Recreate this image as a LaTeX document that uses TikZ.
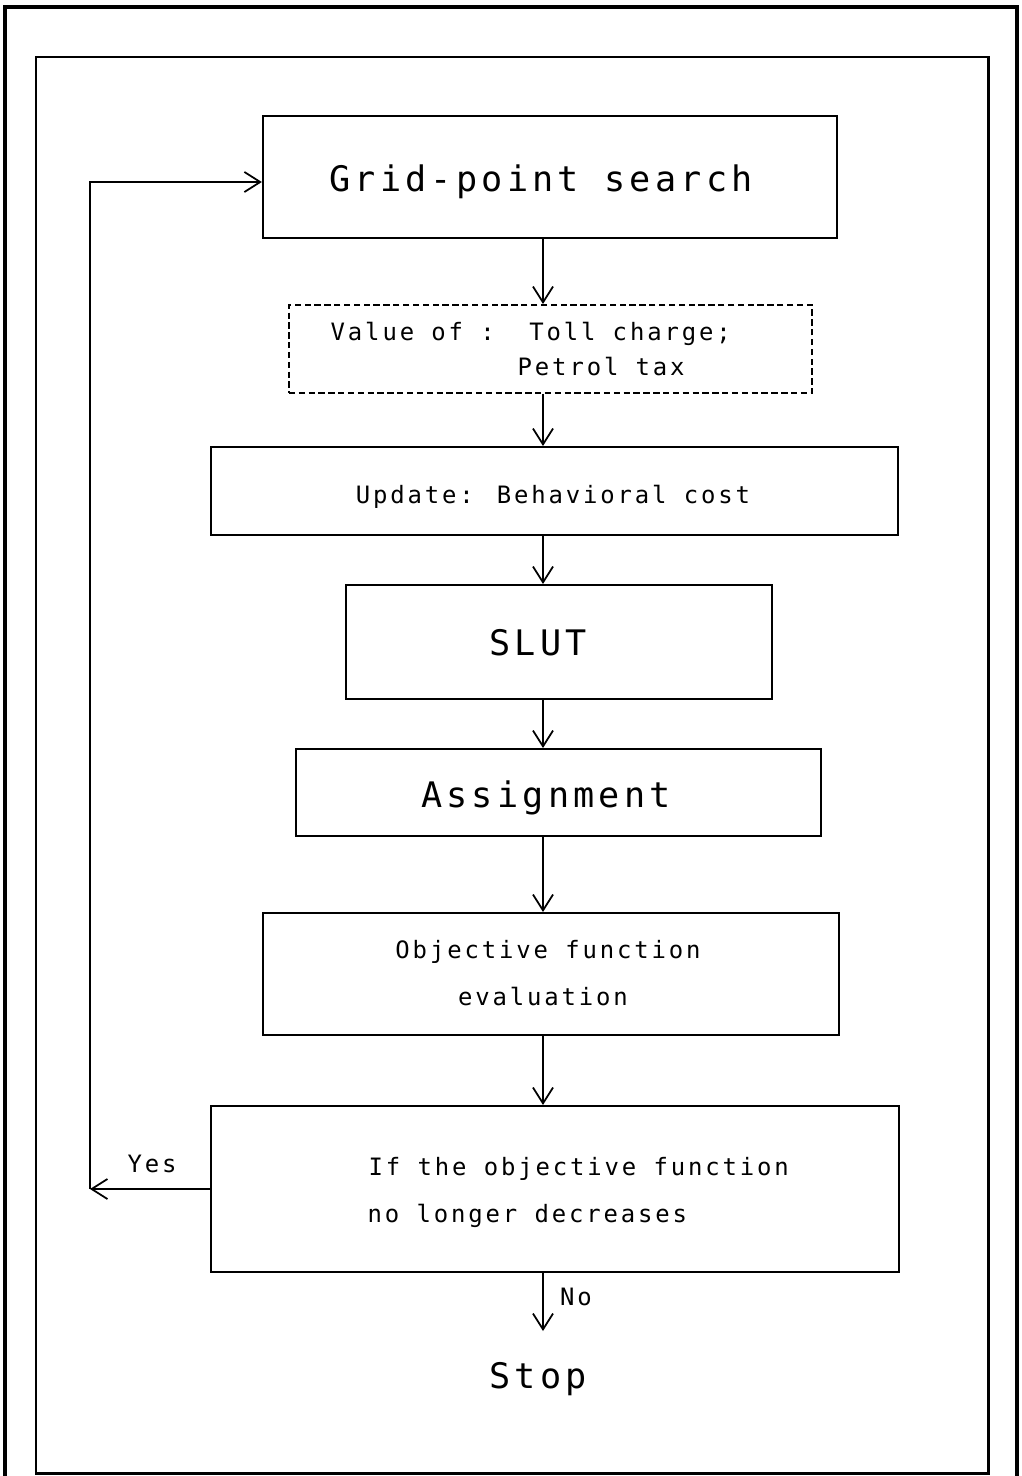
\documentclass[tikz,border=0pt]{standalone}
\usepackage{fontspec}
\newfontfamily\plotterfont[LetterSpace=12]{DejaVu Sans Mono}
\newfontfamily\plotterlarge[LetterSpace=12]{DejaVu Sans Mono}
\usetikzlibrary{arrows.meta}
\tikzset{every picture/.style={/utils/exec={\plotterfont}}}

\begin{document}
\begin{tikzpicture}[x=0.01cm,y=-0.01cm,
    box/.style={draw,line width=0.55pt,inner sep=0pt},
    flow/.style={-{Straight Barb[length=4.5pt,width=5.7pt]},line width=0.5pt},
    small/.style={inner sep=0pt,font=\plotterfont\fontsize{6.8}{8}\selectfont},
    large/.style={inner sep=0pt,font=\plotterlarge\fontsize{10}{12}\selectfont}]
    \useasboundingbox (0,0) rectangle (1022,1476);
    \draw [line width=1.1pt] (5,1476) -- (5,7) -- (1017,7) -- (1017,1476);
    \draw [line width=0.85pt] (36,57) rectangle (988,1473);
    \coordinate (axis) at (543,0);
    \node [box,minimum width=5.74cm,minimum height=1.22cm] (grid) at (550,177) {};
    \node [box,dashed,dash pattern=on 1.8pt off 1pt,minimum width=5.23cm,minimum height=0.88cm] (values) at (550.5,349) {};
    \node [box,minimum width=6.87cm,minimum height=0.88cm] (update) at (554.5,491) {};
    \node [box,minimum width=4.26cm,minimum height=1.14cm] (slut) at (559,642) {};
    \node [box,minimum width=5.25cm,minimum height=0.87cm] (assign) at (558.5,792.5) {};
    \node [box,minimum width=5.76cm,minimum height=1.22cm] (objective) at (551,974) {};
    \node [box,minimum width=6.88cm,minimum height=1.66cm] (ifbox) at (555,1189) {};
    \node [large,anchor=base] (gridtext) at (541,192) {Grid-point search};
    \node [small,anchor=base west] (valuetext) at (330,340) {Value of :\ \ Toll charge;};
    \node [small,anchor=base west] (petroltext) at (517,375) {Petrol tax};
    \node [small,anchor=base] (updatetext) at (553,503) {Update: Behavioral cost};
    \node [large,anchor=base] (sluttext) at (538,655) {SLUT};
    \node [large,anchor=base] (assigntext) at (546,807) {Assignment};
    \node [small,anchor=base] (objtext) at (548,958) {Objective function};
    \node [small,anchor=base] (evaltext) at (543,1005) {evaluation};
    \node [small,anchor=base west] (iftext) at (368,1175) {If the objective function};
    \node [small,anchor=base west] (longertext) at (367,1222) {no longer decreases};
    \node [small,anchor=base] (yes) at (152,1172) {Yes};
    \node [small,anchor=base] (no) at (576,1305) {No};
    \node [large,anchor=base] (stop) at (538,1388) {Stop};
    \foreach \a/\b in {grid/values,values/update,update/slut,slut/assign,assign/objective,objective/ifbox}
        \draw [flow] (\a.south -| axis) -- (\b.north -| axis);
    \coordinate (noend) at (543,1331);
    \draw [flow] (ifbox.south -| axis) -- (noend);
    \coordinate (back) at (90,1189);
    \draw [flow] (ifbox.west) -- (back);
    \draw [flow] (back) |- ([yshift=-0.05cm]grid.west);
\end{tikzpicture}
\end{document}
